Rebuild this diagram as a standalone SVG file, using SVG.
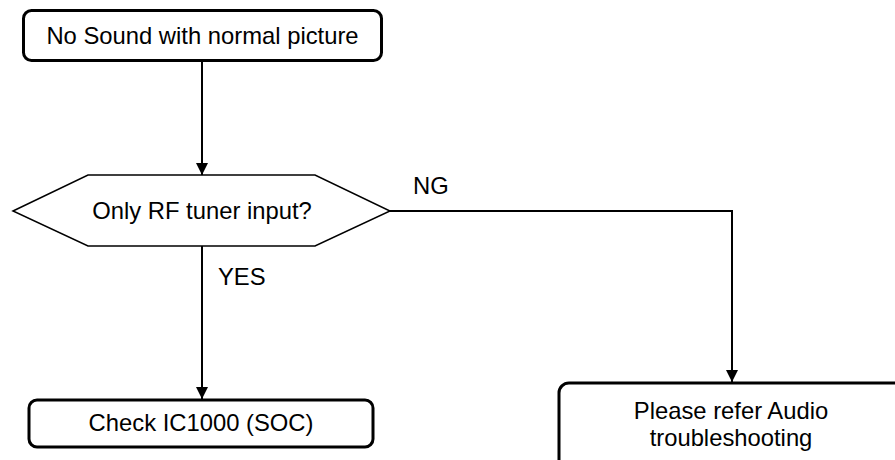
<svg xmlns="http://www.w3.org/2000/svg" width="895" height="460" viewBox="0 0 895 460">
<style>
.box{fill:#fff;stroke:#000;stroke-width:3}
.dec{fill:#fff;stroke:#000;stroke-width:1.5}
.t{font-family:"Liberation Sans",Arial,sans-serif;font-size:23.8px;fill:#000;text-anchor:middle}
.lbl{font-family:"Liberation Sans",Arial,sans-serif;font-size:23.8px;fill:#000}
.c{fill:none;stroke:#000;stroke-width:2}
</style>
<defs>
<marker id="arr" viewBox="0 0 12 12" refX="12" refY="6" markerWidth="12" markerHeight="12" markerUnits="userSpaceOnUse" orient="auto">
<path d="M0,0 L12,6 L0,12 z" fill="#000"/>
</marker>
</defs>
<g id="connectors">
<path class="c" d="M202,61 V175" marker-end="url(#arr)"/>
<path class="c" d="M202,246 V399" marker-end="url(#arr)"/>
<path class="c" d="M390,211 H732 V382" marker-end="url(#arr)"/>
<text class="lbl" x="413" y="194">NG</text>
<text class="lbl" x="218" y="285">YES</text>
</g>
<g id="start">
<rect class="box" x="23.5" y="10.5" width="358" height="50" rx="8"/>
<text class="t" x="202.5" y="44">No Sound with normal picture</text>
</g>
<g id="decision">
<polygon class="dec" points="13,211 88,175 315,175 390,211 315,246 88,246"/>
<text class="t" x="202" y="219">Only RF tuner input?</text>
</g>
<g id="check">
<rect class="box" x="29" y="400" width="344" height="47" rx="8"/>
<text class="t" x="201" y="431">Check IC1000 (SOC)</text>
</g>
<g id="audio">
<rect class="box" x="559" y="383" width="360" height="100" rx="10"/>
<text class="t" x="731" y="419">Please refer Audio</text>
<text class="t" x="731" y="446">troubleshooting</text>
</g>
</svg>
